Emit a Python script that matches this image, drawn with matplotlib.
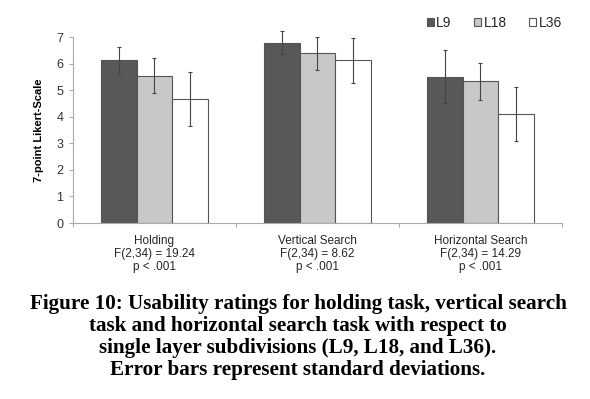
import numpy as np
import matplotlib
matplotlib.use("Agg")
import matplotlib.pyplot as plt

plt.rcParams["font.family"] = ["Liberation Sans", "DejaVu Sans"]

tasks = ["Holding", "Vertical Search", "Horizontal Search"]
stats = ["F(2,34) = 19.24", "F(2,34) = 8.62", "F(2,34) = 14.29"]
pvals = ["p < .001", "p < .001", "p < .001"]
series = ["L9", "L18", "L36"]
means = {
    "L9": [6.12, 6.79, 5.51],
    "L18": [5.55, 6.40, 5.34],
    "L36": [4.67, 6.12, 4.11],
}
sds = {
    "L9": [0.52, 0.43, 1.00],
    "L18": [0.67, 0.62, 0.70],
    "L36": [1.03, 0.84, 1.03],
}
colors = {"L9": "#585858", "L18": "#c8c8c8", "L36": "#ffffff"}

fig = plt.figure(figsize=(5.9, 3.99), dpi=100)
ax = fig.add_axes([0.1237, 0.441, 0.8288, 0.466])

x = np.arange(len(tasks))
w = 0.22
for i, s in enumerate(series):
    ax.bar(x + (i - 1) * w, means[s], w, color=colors[s], edgecolor="#555555",
           linewidth=0.8, label=s, zorder=2)
    eb = ax.errorbar(x + (i - 1) * w, means[s], yerr=sds[s], fmt="none",
                     ecolor="#444444", elinewidth=0.8, capsize=1.2, capthick=0.8, zorder=3)
    for art in eb.lines[1] + eb.lines[2]:
        art.set_clip_on(False)

ax.set_xlim(-0.5, 2.5)
ax.set_ylim(0, 7)
ax.set_yticks(range(8))
ax.set_xticks([-0.5, 0.5, 1.5, 2.5])
ax.set_xticklabels([])
ax.tick_params(axis="x", length=3, color="#aaaaaa", direction="out")
ax.tick_params(axis="y", length=3, color="#aaaaaa", labelsize=9, labelcolor="#333333", pad=4)
for sp in ["top", "right"]:
    ax.spines[sp].set_visible(False)
ax.spines["left"].set_color("#aaaaaa")
ax.spines["bottom"].set_color("#aaaaaa")
ax.spines["left"].set_linewidth(0.8)
ax.spines["bottom"].set_linewidth(0.8)

ax.set_ylabel("7-point Likert-Scale", fontsize=8, fontweight="bold", labelpad=9)

for i in range(len(tasks)):
    ax.text(x[i], -0.45, tasks[i] + "\n" + stats[i] + "\n" + pvals[i],
            ha="center", va="top", fontsize=8.5, color="#262626", linespacing=1.12)

ax.legend(loc="upper right", bbox_to_anchor=(1.0, 1.115), ncol=3, frameon=False,
          fontsize=10, handlelength=0.5, handleheight=0.5, handletextpad=0.2,
          columnspacing=1.6, borderaxespad=0, borderpad=0, labelcolor="#262626")

caption = ("Figure 10: Usability ratings for holding task, vertical search\n"
           "task and horizontal search task with respect to\n"
           "single layer subdivisions (L9, L18, and L36).\n"
           "Error bars represent standard deviations.")
fig.text(0.505, 0.263, caption, ha="center", va="top", fontsize=15.2,
         fontweight="bold", family="Liberation Serif", linespacing=1.13)

fig.savefig("out.png", dpi=100)
